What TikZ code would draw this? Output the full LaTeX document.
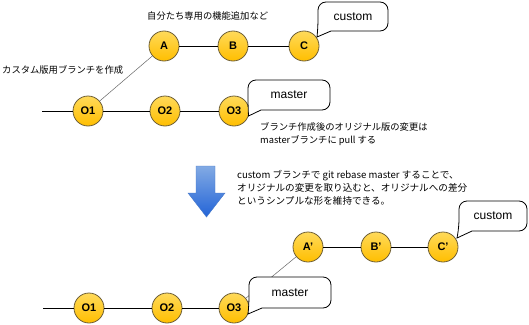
\documentclass[tikz,border=0pt]{standalone}
\usepackage{fontspec}
\setmainfont{Liberation Sans}
\newfontfamily\jpfont{Noto Sans CJK JP}

\definecolor{commitTop}{RGB}{255,218,90}
\definecolor{commitBot}{RGB}{255,190,0}
\definecolor{commitRim}{RGB}{110,95,55}
\definecolor{arrowTop}{RGB}{130,170,228}
\definecolor{arrowBot}{RGB}{35,100,215}
\definecolor{arrowRim}{RGB}{70,120,200}

\tikzset{
  commit/.style={circle, minimum size=30pt, inner sep=0pt, draw=commitRim,
    line width=0.8pt, top color=commitTop, bottom color=commitBot,
    font=\fontsize{11}{13}\selectfont\bfseries},
  history/.style={line width=0.9pt, black},
  branchoff/.style={line width=0.5pt, black!60},
  bubbleline/.style={draw=black, fill=white, line width=0.8pt},
  bubbletext/.style={font=\fontsize{12}{14}\selectfont, inner sep=0pt},
  note/.style={font=\jpfont\fontsize{9.3}{13.5}\selectfont, align=left,
    anchor=west, inner sep=0pt},
}

% speech bubble: name, centre x, centre y, half width, half height, tip, text
\newcommand\speechbox[7]{%
  \draw[bubbleline] ({#2-#4+13},{#3+#5}) [rounded corners=8pt]
    -- ({#2+#4},{#3+#5}) -- ({#2+#4},{#3-#5}) -- ({#2-#4},{#3-#5})
    -- ({#2-#4},{#3+#5-4}) [sharp corners] -- (#6) -- cycle;
  \node[bubbletext] (#1) at (#2,#3) {#7};
}

\begin{document}
\begin{tikzpicture}[x=1pt, y=-1pt]
\useasboundingbox (0,0) rectangle (529,324);

% ---------- before rebase ----------
\coordinate (start1) at (42,111);
\node[commit] (O1) at (88,111) {O1};
\node[commit] (O2) at (165,111) {O2};
\node[commit] (O3) at (234,111) {O3};
\node[commit] (A) at (164,46) {A};
\node[commit] (B) at (233,46) {B};
\node[commit] (C) at (304,46) {C};

\draw[history] (start1) -- (O1);
\draw[history] (O1) -- (O2);
\draw[history] (O2) -- (O3);
\draw[history] (A) -- (B);
\draw[history] (B) -- (C);
\draw[branchoff] (O1) -- (A);

\coordinate (tipC) at (317,37);
\coordinate (tipO3) at (248.5,116);
\speechbox{customtop}{353}{16.5}{35}{14.5}{tipC}{custom}
\speechbox{mastertop}{289}{95}{41}{15}{tipO3}{master}

\node[note] (featnote) at (147,16) {自分たち専用の機能追加など};
\node[note] (branchnote) at (2,70) {カスタム版用ブランチを作成};
\node[note] (pullnote) at (260,134) {ブランチ作成後のオリジナル版の変更は\\masterブランチに pull する};

% ---------- transition arrow ----------
\path[top color=arrowTop, bottom color=arrowBot, draw=arrowRim, line width=0.4pt]
  (196,166) -- (215,166) -- (215,193) -- (225,193) -- (206.5,217)
  -- (188,193) -- (196,193) -- cycle;

\node[note, font=\jpfont\fontsize{9.6}{13}\selectfont] (rebasenote) at (237,188) {custom ブランチで git rebase master することで、\\オリジナルの変更を取り込むと、オリジナルへの差分\\というシンプルな形を維持できる。};

% ---------- after rebase ----------
\coordinate (start2) at (43,308);
\node[commit] (P1) at (89,308) {O1};
\node[commit] (P2) at (167,308) {O2};
\node[commit] (P3) at (234,308) {O3};
\node[commit] (Ap) at (308,247) {A'};
\node[commit] (Bp) at (376,247) {B'};
\node[commit] (Cp) at (443,247) {C'};

\draw[history] (start2) -- (P1);
\draw[history] (P1) -- (P2);
\draw[history] (P2) -- (P3);
\draw[history] (Ap) -- (Bp);
\draw[history] (Bp) -- (Cp);
\draw[branchoff] (P3) -- (Ap);

\coordinate (tipCp) at (457,238);
\coordinate (tipP3) at (248,314);
\speechbox{customlow}{493}{216}{34}{15}{tipCp}{custom}
\speechbox{masterlow}{290}{292.5}{41}{15.5}{tipP3}{master}
\end{tikzpicture}
\end{document}
